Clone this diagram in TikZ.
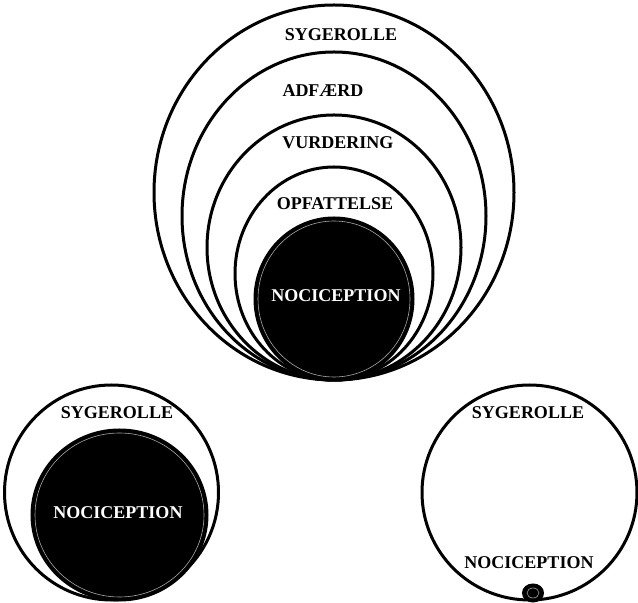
\documentclass[tikz,border=0pt]{standalone}
\usepackage{fontspec}
\setmainfont{Liberation Serif}
\begin{document}
\begin{tikzpicture}[x=0.5pt, y=-0.5pt,
	ring/.style={line width=1.5pt},
	core/.style={fill=black, draw=black, line width=1.5pt},
	coreline/.style={draw=gray!70, line width=0.3pt},
	lbl/.style={font=\fontsize{9}{10}\selectfont\bfseries, inner sep=0pt},
	corelbl/.style={lbl, text=white}]
	\useasboundingbox (0,0) rectangle (638,603);
	% top: nested rings, all touching at the bottom
	\draw[ring] (334,192.5) ellipse (180 and 187.5);
	\draw[ring] (334,216) ellipse (152 and 164);
	\draw[ring] (334,247.5) ellipse (127 and 132.5);
	\draw[ring] (334,273.5) ellipse (99 and 106.5);
	\draw[core] (334,299) ellipse (79 and 81);
	\draw[coreline] (334,299) ellipse (76 and 78);
	\node[lbl] (sygtop) at (341,35) {SYGEROLLE};
	\node[lbl] (adf) at (323,91) {ADFÆRD};
	\node[lbl] (vurd) at (338,143) {VURDERING};
	\node[lbl] (opf) at (335,204) {OPFATTELSE};
	\node[corelbl] (nocitop) at (336,296) {NOCICEPTION};
	% bottom left: large core
	\draw[ring] (111.5,492.5) ellipse (107 and 107.5);
	\draw[core] (119.5,515) ellipse (87.5 and 85);
	\draw[coreline] (119.5,515) ellipse (84.5 and 82);
	\node[lbl] (sygleft) at (117,413) {SYGEROLLE};
	\node[corelbl] (nocileft) at (118,513) {NOCICEPTION};
	% bottom right: tiny core
	\draw[ring] (529.5,492.5) ellipse (107.5 and 107.5);
	\draw[core] (533,593) ellipse (9.5 and 8);
	\draw[coreline] (533,593) ellipse (6 and 5);
	\node[lbl] (sygright) at (528,413) {SYGEROLLE};
	\node[lbl] (nociright) at (529,563) {NOCICEPTION};
\end{tikzpicture}
\end{document}
